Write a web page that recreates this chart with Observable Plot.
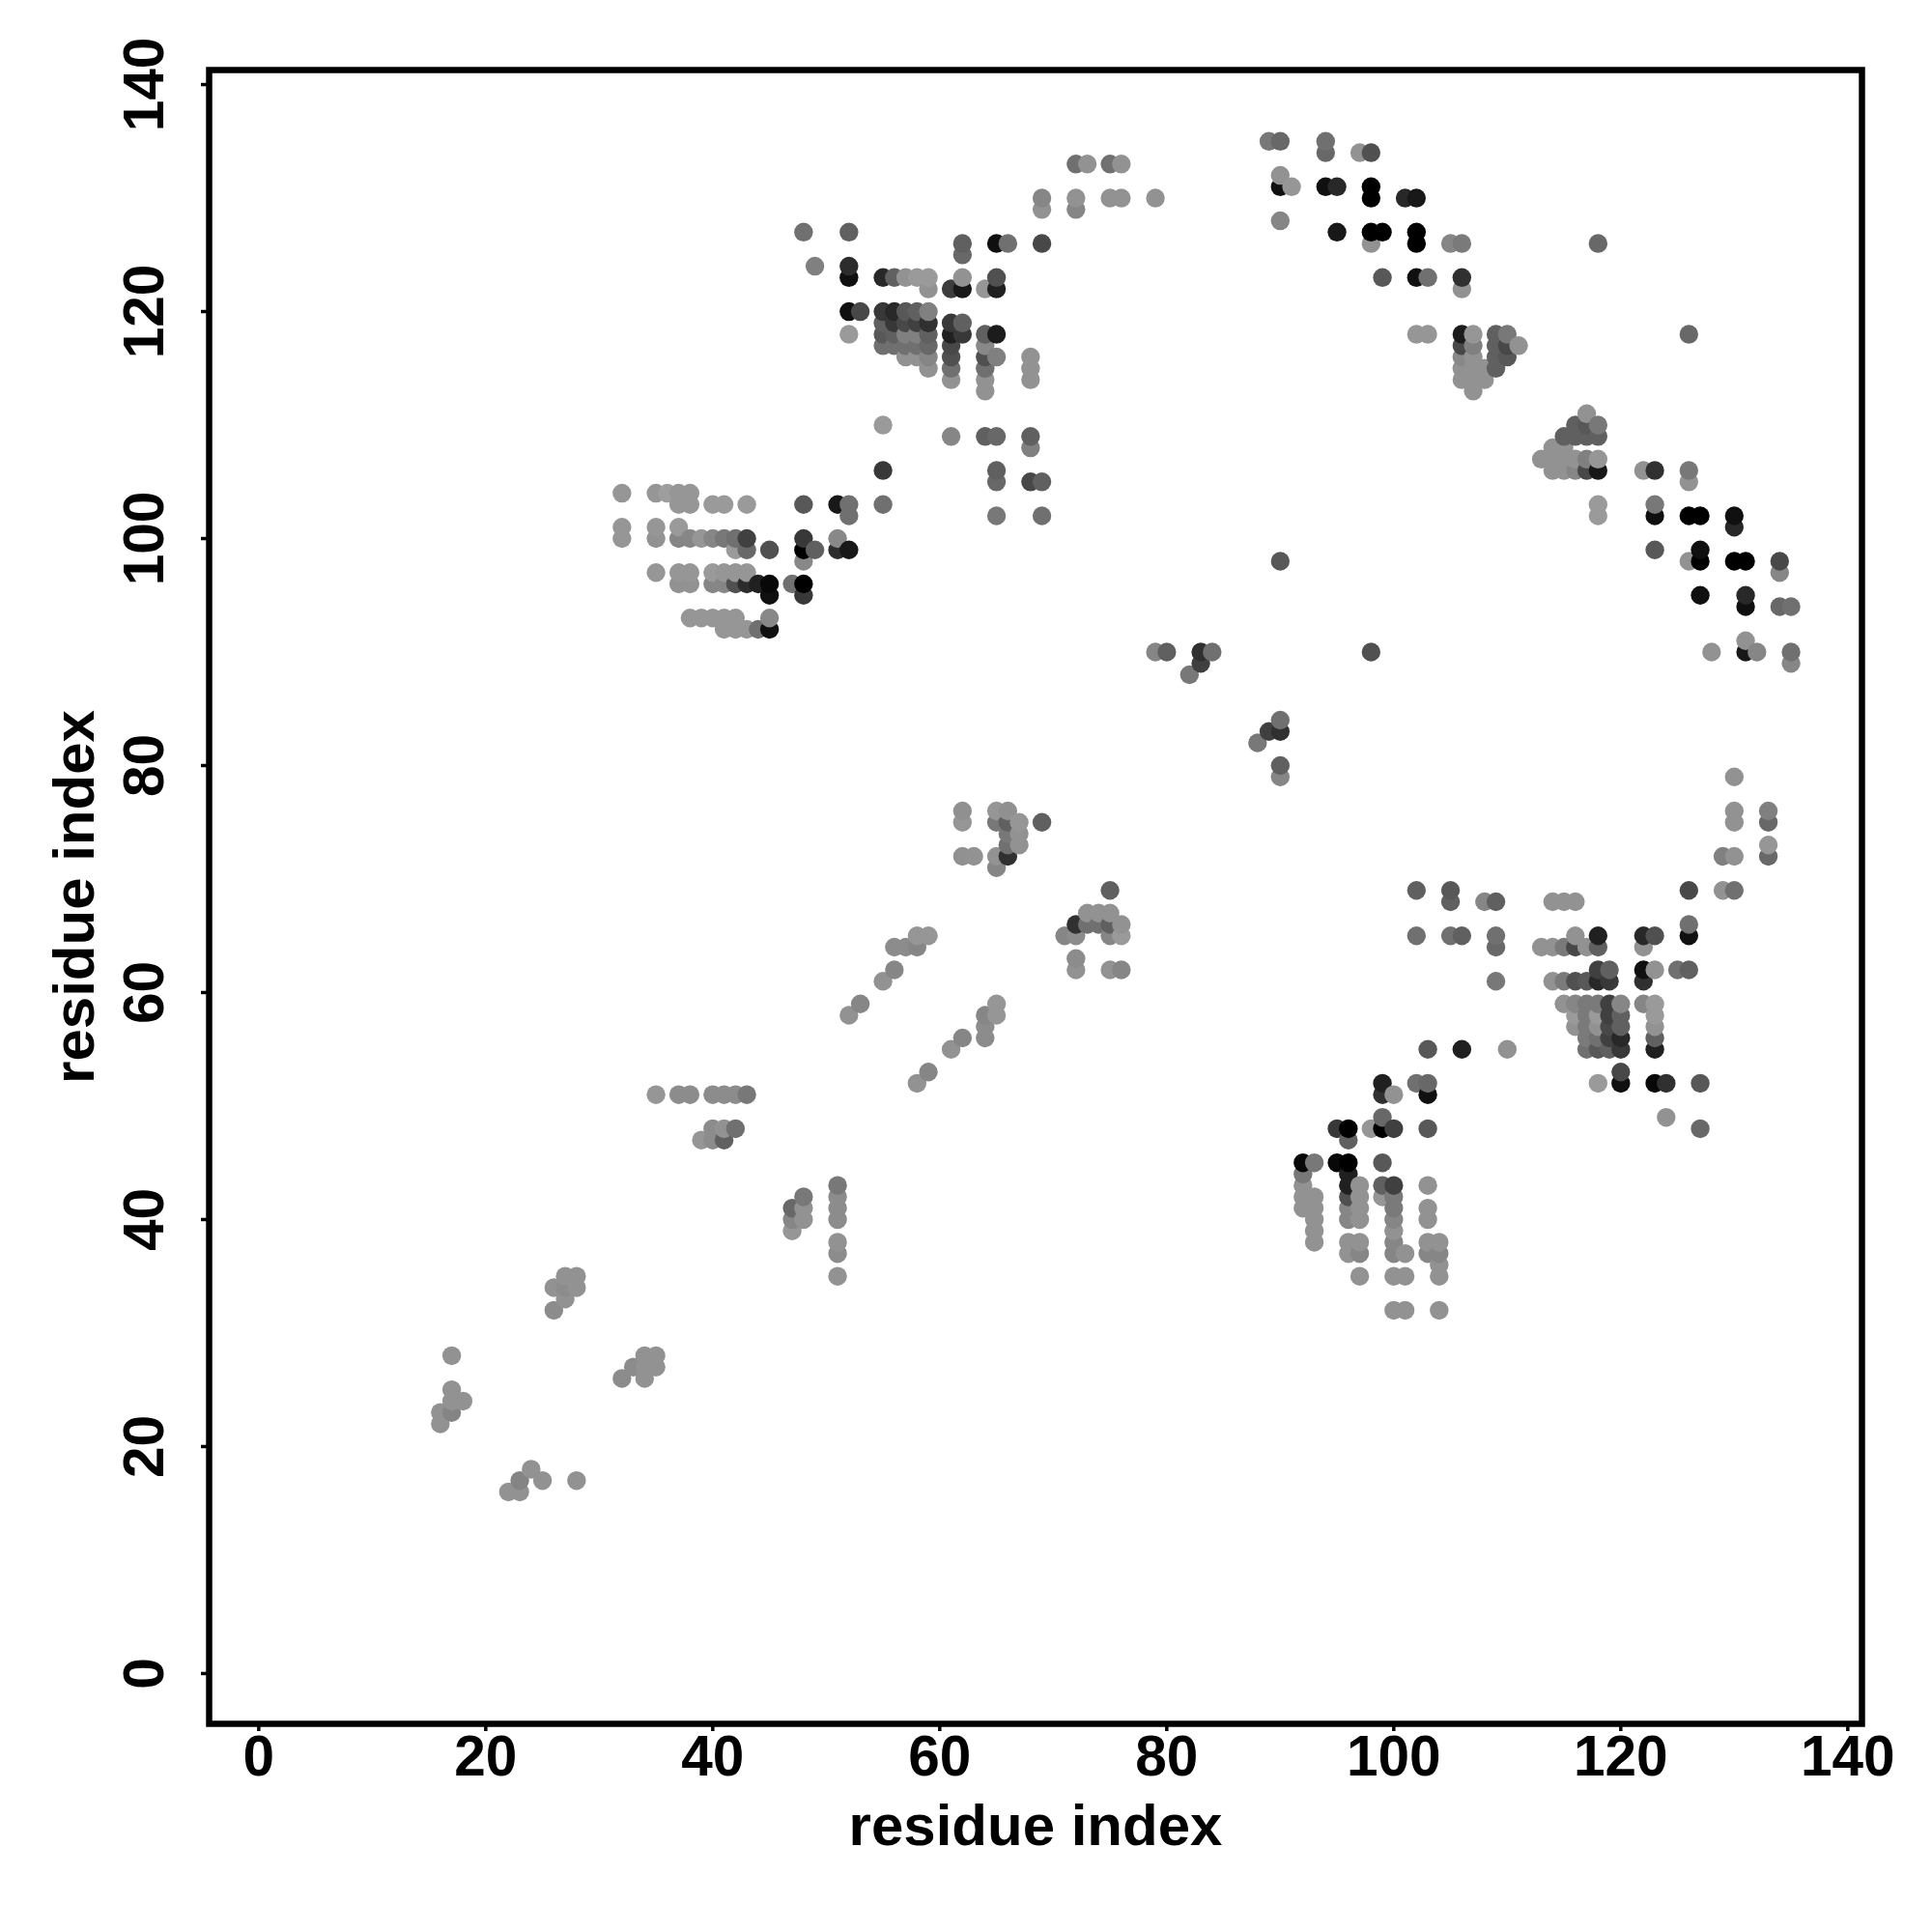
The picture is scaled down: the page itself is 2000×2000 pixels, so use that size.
<!DOCTYPE html>
<html>
<head>
<meta charset="utf-8">
<style>html,body{margin:0;padding:0;background:#fff}svg{display:block}</style>
<script src="https://cdn.jsdelivr.net/npm/d3@7"></script>
<script src="https://cdn.jsdelivr.net/npm/@observablehq/plot@0.6"></script>
</head>
<body>
<div id="chart"></div>
<script>
// each contact: [residue i, residue j, grey level]
const lowerDiagonal = [
[17,28,0x92],[17,25,0x92],[18,24,0x92],[17,24,0x92],[16,23,0x92],[17,23,0x84],[16,22,0x92],
[24,18,0x92],[23,17,0x84],[25,17,0x92],[28,17,0x92],[22,16,0x92],[23,16,0x92],
[34,28,0x92],[35,28,0x92],[33,27,0x8c],[34,27,0x92],[35,27,0x92],[32,26,0x8c],[34,26,0x92],
[26,32,0x8c],[27,33,0x92],[26,34,0x92],[27,34,0x8c],[28,34,0x92],[27,35,0x92],[28,35,0x92],
[35,51,0x96],[37,51,0x8c],[38,51,0x8c],[40,51,0x8c],[41,51,0x8c],[42,51,0x8c],[43,51,0x78],
[40,48,0x8c],[41,48,0x92],[42,48,0x70],[39,47,0x96],[40,47,0x8c],[41,47,0x60],
[48,42,0x78],[47,41,0x68],[48,41,0x92],[47,40,0x86],[48,40,0x92],[47,39,0x96],
[51,43,0x78],[51,42,0x8c],[51,41,0x8c],[51,40,0x8c],[51,38,0x92],[51,37,0x8c],[51,35,0x92]
];
const middleBands = [
[62,76,0x90],[65,76,0x96],[66,76,0x90],[62,75,0x96],[65,75,0x78],[66,75,0x60],[67,75,0x96],[69,75,0x60],
[66,74,0x78],[67,74,0x92],[66,73,0x70],[67,73,0x92],[62,72,0x90],[63,72,0x92],[65,72,0x92],[66,72,0x30],[65,71,0x86],
[75,69,0x60],[73,67,0x92],[74,67,0x92],[75,67,0x92],
[72,66,0x30],[73,66,0x70],[74,66,0x70],[75,66,0x60],[76,66,0x92],
[71,65,0x86],[72,65,0x8c],[75,65,0x86],[76,65,0x9a],[72,63,0x8c],[72,62,0x92],[75,62,0x92],[76,62,0x86],
[58,65,0x96],[59,65,0x96],[56,64,0x8c],[57,64,0x8c],[58,64,0x86],[56,62,0x86],[55,61,0x92],[53,59,0x86],[52,58,0x92],
[65,59,0x96],[64,58,0x86],[65,58,0x96],[64,57,0x8c],[62,56,0x86],[64,56,0x8c],[61,55,0x92],[59,53,0x86],[58,52,0x92]
];
const centreContacts = [
[79,90,0x86],[80,90,0x60],[83,90,0x30],[84,90,0x70],[83,89,0x40],[82,88,0x78],
[90,84,0x70],[89,83,0x40],[90,83,0x30],[88,82,0x78],[90,80,0x60],[90,79,0x86],
[90,98,0x58],[98,90,0x50],[118,126,0x68],[126,118,0x68]
];
const sheetUpperLeft = [
[32,104,0x96],[35,104,0x96],[36,104,0x9e],[37,104,0x96],[38,104,0x96],
[37,103,0x96],[38,103,0x96],[40,103,0x9a],[41,103,0x9a],[43,103,0x9a],[48,103,0x58],[51,103,0x18],[52,103,0x70],[55,103,0x70],
[52,102,0x70],[55,106,0x38],
[32,101,0x96],[35,101,0x96],[37,101,0x9a],
[32,100,0x96],[35,100,0x92],[37,100,0x86],[38,100,0x86],[39,100,0x96],[40,100,0x86],[41,100,0x78],[42,100,0x70],[43,100,0x40],[48,100,0x38],[51,100,0x88],
[42,99,0x9a],[43,99,0x68],[45,99,0x50],[48,99,0x00],[49,99,0x60],[51,99,0x2c],[52,99,0x18],
[48,98,0x88],
[35,97,0x96],[37,97,0x96],[38,97,0x96],[40,97,0x9a],[41,97,0x96],[42,97,0x96],[43,97,0x96],
[37,96,0x92],[38,96,0x92],[40,96,0x86],[41,96,0x86],[42,96,0x50],[43,96,0x2c],[44,96,0x20],[45,96,0x08],[47,96,0x70],[48,96,0x00],
[45,95,0x10],[48,95,0x38],
[38,93,0x96],[39,93,0x96],[40,93,0x96],[41,93,0x96],[42,93,0x96],[45,93,0x88],
[41,92,0x96],[42,92,0x96],[43,92,0x96],[44,92,0x70],[45,92,0x10]
];
const sheetUpperMiddle = [
[69,130,0x7a],[72,130,0x92],[69,129,0x92],[72,129,0x86],
[48,127,0x70],[52,127,0x60],
[62,126,0x60],[65,126,0x10],[66,126,0x70],[69,126,0x48],[62,125,0x68],
[49,124,0x80],[52,124,0x2c],
[52,123,0x10],[55,123,0x28],[56,123,0x60],[57,123,0x92],[58,123,0x9a],[59,123,0x9a],[62,123,0x92],[65,123,0x50],
[59,122,0x92],[61,122,0x3c],[62,122,0x18],[64,122,0x96],[65,122,0x20],
[52,120,0x10],[53,120,0x48],[55,120,0x38],[56,120,0x28],[57,120,0x58],[58,120,0x60],[59,120,0x80],
[55,119,0x60],[56,119,0x38],[57,119,0x48],[58,119,0x40],[59,119,0x30],[61,119,0x38],[62,119,0x60],
[52,118,0x9a],[55,118,0x58],[56,118,0x60],[57,118,0x80],[58,118,0x80],[59,118,0x60],[61,118,0x20],[62,118,0x38],[64,118,0x60],[65,118,0x1c],
[55,117,0x70],[56,117,0x70],[57,117,0x70],[58,117,0x70],[59,117,0x68],[61,117,0x48],[64,117,0x88],
[57,116,0x92],[58,116,0x92],[59,116,0x86],[61,116,0x50],[64,116,0x50],[65,116,0x80],[68,116,0x92],
[59,115,0x92],[61,115,0x70],[64,115,0x70],[68,115,0x92],
[61,114,0x92],[64,114,0x92],[68,114,0x92],[64,113,0x92],
[55,110,0x9a],[61,109,0x86],[64,109,0x60],[65,109,0x68],[68,109,0x60],[68,108,0x80],
[65,106,0x60],[65,105,0x68],[68,105,0x48],[69,105,0x60],[65,102,0x78],[69,102,0x70],
[72,133,0x70],[73,133,0x92],[75,133,0x70],[76,133,0x92],
[69,130,0x86],[72,130,0x92],[75,130,0x92],[76,130,0x92],[79,130,0x92]
];
const sheetUpperRight = [
[89,135,0x78],[90,135,0x68],[94,135,0x70],[94,134,0x68],[97,134,0x92],[98,134,0x50],
[90,132,0x92],[90,131,0x10],[91,131,0x96],[94,131,0x10],[95,131,0x28],[98,131,0x00],
[98,130,0x00],[101,130,0x28],[102,130,0x18],[90,128,0x86],
[95,127,0x18],[98,127,0x00],[99,127,0x00],[102,127,0x00],
[98,126,0x92],[102,126,0x00],[105,126,0x86],[106,126,0x7a],
[99,123,0x58],[102,123,0x10],[103,123,0x70],[106,123,0x30],[106,122,0x92],
[102,118,0x96],[103,118,0x96],[106,118,0x1c],[107,118,0x96],[109,118,0x60],[110,118,0x78],
[106,117,0x48],[107,117,0x80],[109,117,0x60],[110,117,0x48],[111,117,0x92],
[106,116,0x88],[107,116,0x92],[109,116,0x60],[110,116,0x58],
[106,115,0x92],[107,115,0x92],[108,115,0x92],[109,115,0x60],
[106,114,0x92],[107,114,0x92],[108,114,0x92],[107,113,0x92],
[117,111,0x92],[116,110,0x60],[117,110,0x58],[118,110,0x78],
[115,109,0x60],[116,109,0x60],[117,109,0x60],[118,109,0x60],
[114,108,0x92],[115,108,0x92],
[113,107,0x92],[114,107,0x92],[115,107,0x92],[116,107,0x92],[117,107,0x80],[118,107,0x96],
[114,106,0x92],[115,106,0x92],[116,106,0x86],[117,106,0x48],[118,106,0x18],[122,106,0x92],[123,106,0x30],[126,106,0x78],[126,105,0x92],
[118,103,0x9a],[123,103,0x78],[118,102,0x9a],[123,102,0x10],[126,102,0x00],[127,102,0x00],[130,102,0x10],[130,101,0x28],
[123,99,0x58],[127,99,0x10],[126,98,0x92],[127,98,0x00],[130,98,0x00],[131,98,0x00],[134,98,0x48],[134,97,0x86],
[127,95,0x10],[131,95,0x28],[131,94,0x10],[134,94,0x68],[135,94,0x70],
[131,91,0x92],[128,90,0x92],[131,90,0x18],[132,90,0x86],[135,90,0x70],[135,89,0x86]
];
const sheetLowerRight = [
[126,69,0x48],[129,69,0x92],[130,69,0x70],[114,68,0x92],[115,68,0x92],[116,68,0x92],
[126,66,0x70],[116,65,0x92],[118,65,0x20],[122,65,0x28],[123,65,0x50],[126,65,0x10],
[113,64,0x92],[114,64,0x92],[115,64,0x7a],[116,64,0x48],[117,64,0x92],[118,64,0x60],[122,64,0x92],
[118,62,0x40],[119,62,0x60],[122,62,0x10],[123,62,0x92],[125,62,0x70],[126,62,0x60],
[114,61,0x92],[115,61,0x7a],[116,61,0x50],[117,61,0x58],[118,61,0x28],[119,61,0x38],[122,61,0x30],
[115,59,0x92],[116,59,0x86],[117,59,0x7a],[118,59,0x7a],[119,59,0x40],[120,59,0x86],[122,59,0x86],[123,59,0x9a],
[116,58,0x9a],[117,58,0x7a],[118,58,0x9a],[119,58,0x40],[120,58,0x60],[123,58,0x9a],
[116,57,0x92],[117,57,0x7a],[118,57,0x92],[119,57,0x48],[120,57,0x60],[123,57,0x92],
[117,56,0x7a],[118,56,0x70],[119,56,0x40],[120,56,0x28],[123,56,0x60],
[117,55,0x70],[118,55,0x58],[119,55,0x60],[120,55,0x38],[123,55,0x20],[110,55,0x92],
[120,53,0x48],[118,52,0x9a],[120,52,0x10],[123,52,0x08],[124,52,0x30],[127,52,0x58],[124,49,0x92],[127,48,0x68],
[102,69,0x60],[105,69,0x58],[105,68,0x60],[108,68,0x86],[109,68,0x60],
[102,65,0x70],[105,65,0x70],[106,65,0x60],[109,65,0x70],[109,64,0x68],[109,61,0x78],
[103,55,0x58],[106,55,0x20],
[130,79,0x92],[130,76,0x92],[133,76,0x80],[130,75,0x92],[133,75,0x68],[133,73,0x96],[129,72,0x80],[130,72,0x92],[133,72,0x68]
];
const sheetLowerMiddle = [
[99,52,0x20],[102,52,0x70],[103,52,0x68],[99,51,0x30],[100,51,0x92],[103,51,0x10],[99,49,0x68],
[95,48,0x38],[96,48,0x00],[98,48,0x96],[99,48,0x00],[100,48,0x40],[103,48,0x58],[96,47,0x60],
[92,45,0x08],[93,45,0x78],[95,45,0x08],[96,45,0x00],[99,45,0x58],
[92,44,0x78],[96,44,0x20],
[92,43,0x92],[96,43,0x20],[97,43,0x92],[99,43,0x60],[100,43,0x40],[103,43,0x92],
[92,42,0x92],[93,42,0x92],[96,42,0x50],[97,42,0x92],[99,42,0x96],[100,42,0x7a],
[92,41,0x92],[93,41,0x92],[96,41,0x86],[97,41,0x92],[100,41,0x7a],[103,41,0x92],
[93,40,0x92],[96,40,0x86],[97,40,0x92],[100,40,0x86],[103,40,0x92],
[93,39,0x92],[100,39,0x92],
[93,38,0x92],[96,38,0x92],[97,38,0x92],[100,38,0x86],[103,38,0x92],[104,38,0x92],
[96,37,0x92],[97,37,0x86],[100,37,0x86],[101,37,0x92],[103,37,0x86],[104,37,0x86],
[104,36,0x92],[97,35,0x92],[100,35,0x92],[101,35,0x92],[104,35,0x92],
[100,32,0x92],[101,32,0x92],[104,32,0x92]
];
const residueTicks = [0,20,40,60,80,100,120,140];
const axisLabel = "residue index";

const seen = new Map();
for (const c of [...lowerDiagonal, ...middleBands, ...centreContacts, ...sheetUpperLeft,
                 ...sheetUpperMiddle, ...sheetUpperRight, ...sheetLowerRight, ...sheetLowerMiddle]) {
  seen.set(c[0] + ":" + c[1], c);
}
const contacts = [...seen.values()]
  .map(([i, j, g]) => ({i, j, g}))
  .sort((a, b) => d3.ascending(a.i, b.i) || d3.ascending(a.j, b.j));

const chart = Plot.plot({
  width: 2000,
  height: 2000,
  marginLeft: 216,
  marginRight: 73,
  marginTop: 72,
  marginBottom: 216,
  style: {fontFamily: "'Liberation Sans', Arial, sans-serif", fontWeight: "bold", fontSize: "60px", color: "#000", background: "#fff"},
  x: {domain: [-4.37, 141.25], label: null},
  y: {domain: [-4.43, 141.28], label: null},
  marks: [
    Plot.dot(contacts, {x: "i", y: "j", r: 9.7, fill: d => `rgb(${d.g},${d.g},${d.g})`, stroke: "none"}),
    Plot.frame({stroke: "#000", strokeWidth: 6.5}),
    Plot.axisX(residueTicks, {tickSize: 8, tickPadding: 4, strokeWidth: 3.5, fontSize: 58.5, label: null}),
    Plot.axisY(residueTicks, {tickSize: 8, tickPadding: 40, tickRotate: -90, strokeWidth: 3.5, fontSize: 58.5, label: null}),
    Plot.axisX([], {fontSize: 60, tickSize: 0, label: axisLabel, labelAnchor: "center", labelArrow: "none", labelOffset: 125}),
    Plot.axisY([], {fontSize: 60, tickSize: 0, label: axisLabel, labelAnchor: "center", labelArrow: "none", labelOffset: 162})
  ]
});
document.getElementById("chart").appendChild(chart);
</script>
</body>
</html>
